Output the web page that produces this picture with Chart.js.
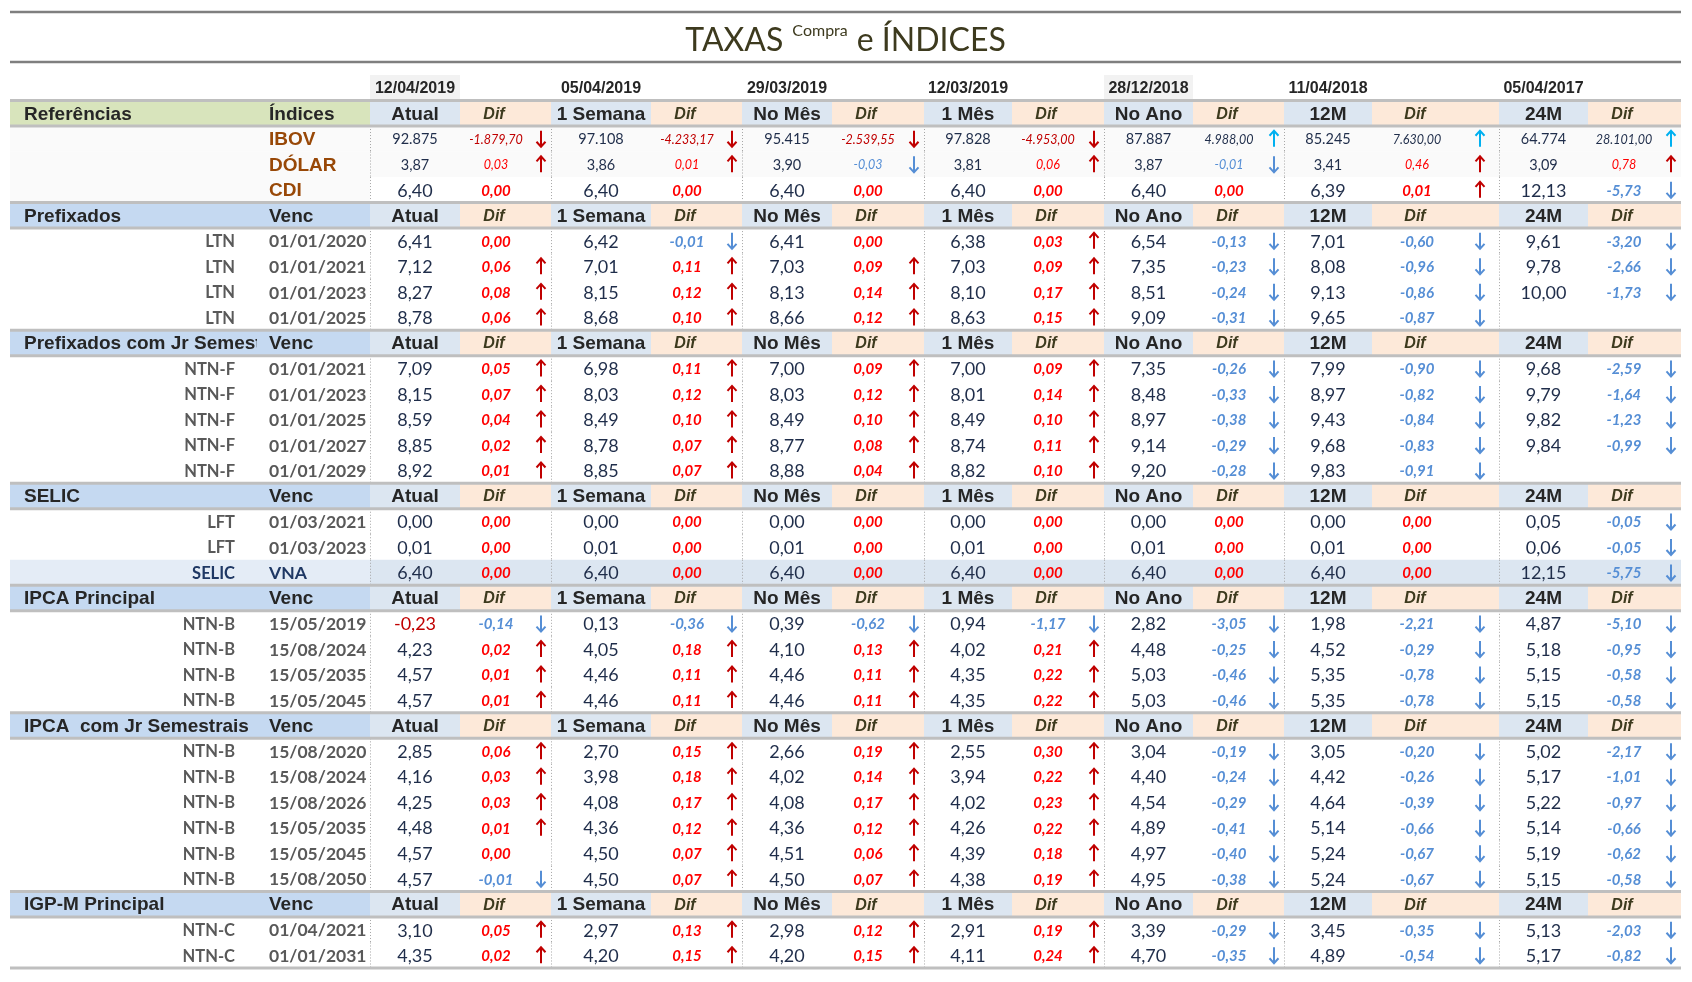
<!DOCTYPE html>
<html>
<head>
<meta charset="utf-8">
<script src="https://cdn.jsdelivr.net/npm/chart.js@4"></script>
<style>
  html, body { margin: 0; background: #fff; }
  canvas { display: block; }
</style>
</head>
<body>
<canvas id="taxas" width="1692" height="982"></canvas>
<script>
// Taxas Compra e Indices - tabela desenhada com Chart.js

const periods = ['Atual', '1 Semana', 'No Mês', '1 Mês', 'No Ano', '12M', '24M'];
const periodDates = ['12/04/2019', '05/04/2019', '29/03/2019', '12/03/2019', '28/12/2018', '11/04/2018', '05/04/2017'];

// Referencias
const ibov = [92875, 97108, 95415, 97828, 87887, 85245, 64774];
const ibovDif = [-1879.70, -4233.17, -2539.55, -4953.00, 4988.00, 7630.00, 28101.00];
const dolar = [3.87, 3.86, 3.90, 3.81, 3.87, 3.41, 3.09];
const dolarDif = [0.03, 0.01, -0.03, 0.06, -0.01, 0.46, 0.78];
const cdi = [6.40, 6.40, 6.40, 6.40, 6.40, 6.39, 12.13];
const cdiDif = [0.00, 0.00, 0.00, 0.00, 0.00, 0.01, -5.73];

// Prefixados (LTN)
const ltnVenc = ['01/01/2020', '01/01/2021', '01/01/2023', '01/01/2025'];
const ltnRates = [
  [6.41, 6.42, 6.41, 6.38, 6.54, 7.01, 9.61],
  [7.12, 7.01, 7.03, 7.03, 7.35, 8.08, 9.78],
  [8.27, 8.15, 8.13, 8.10, 8.51, 9.13, 10.00],
  [8.78, 8.68, 8.66, 8.63, 9.09, 9.65, null]
];
const ltnDif = [
  [0.00, -0.01, 0.00, 0.03, -0.13, -0.60, -3.20],
  [0.06, 0.11, 0.09, 0.09, -0.23, -0.96, -2.66],
  [0.08, 0.12, 0.14, 0.17, -0.24, -0.86, -1.73],
  [0.06, 0.10, 0.12, 0.15, -0.31, -0.87, null]
];

// Prefixados com juros semestrais (NTN-F)
const ntnfVenc = ['01/01/2021', '01/01/2023', '01/01/2025', '01/01/2027', '01/01/2029'];
const ntnfRates = [
  [7.09, 6.98, 7.00, 7.00, 7.35, 7.99, 9.68],
  [8.15, 8.03, 8.03, 8.01, 8.48, 8.97, 9.79],
  [8.59, 8.49, 8.49, 8.49, 8.97, 9.43, 9.82],
  [8.85, 8.78, 8.77, 8.74, 9.14, 9.68, 9.84],
  [8.92, 8.85, 8.88, 8.82, 9.20, 9.83, null]
];
const ntnfDif = [
  [0.05, 0.11, 0.09, 0.09, -0.26, -0.90, -2.59],
  [0.07, 0.12, 0.12, 0.14, -0.33, -0.82, -1.64],
  [0.04, 0.10, 0.10, 0.10, -0.38, -0.84, -1.23],
  [0.02, 0.07, 0.08, 0.11, -0.29, -0.83, -0.99],
  [0.01, 0.07, 0.04, 0.10, -0.28, -0.91, null]
];

// SELIC (LFT)
const lftVenc = ['01/03/2021', '01/03/2023'];
const lftRates = [
  [0.00, 0.00, 0.00, 0.00, 0.00, 0.00, 0.05],
  [0.01, 0.01, 0.01, 0.01, 0.01, 0.01, 0.06]
];
const lftDif = [
  [0.00, 0.00, 0.00, 0.00, 0.00, 0.00, -0.05],
  [0.00, 0.00, 0.00, 0.00, 0.00, 0.00, -0.05]
];
const selicVna = [6.40, 6.40, 6.40, 6.40, 6.40, 6.40, 12.15];
const selicVnaDif = [0.00, 0.00, 0.00, 0.00, 0.00, 0.00, -5.75];

// IPCA principal (NTN-B)
const ipcaVenc = ['15/05/2019', '15/08/2024', '15/05/2035', '15/05/2045'];
const ipcaRates = [
  [-0.23, 0.13, 0.39, 0.94, 2.82, 1.98, 4.87],
  [4.23, 4.05, 4.10, 4.02, 4.48, 4.52, 5.18],
  [4.57, 4.46, 4.46, 4.35, 5.03, 5.35, 5.15],
  [4.57, 4.46, 4.46, 4.35, 5.03, 5.35, 5.15]
];
const ipcaDif = [
  [-0.14, -0.36, -0.62, -1.17, -3.05, -2.21, -5.10],
  [0.02, 0.18, 0.13, 0.21, -0.25, -0.29, -0.95],
  [0.01, 0.11, 0.11, 0.22, -0.46, -0.78, -0.58],
  [0.01, 0.11, 0.11, 0.22, -0.46, -0.78, -0.58]
];

// IPCA com juros semestrais (NTN-B)
const ipcaJrVenc = ['15/08/2020', '15/08/2024', '15/08/2026', '15/05/2035', '15/05/2045', '15/08/2050'];
const ipcaJrRates = [
  [2.85, 2.70, 2.66, 2.55, 3.04, 3.05, 5.02],
  [4.16, 3.98, 4.02, 3.94, 4.40, 4.42, 5.17],
  [4.25, 4.08, 4.08, 4.02, 4.54, 4.64, 5.22],
  [4.48, 4.36, 4.36, 4.26, 4.89, 5.14, 5.14],
  [4.57, 4.50, 4.51, 4.39, 4.97, 5.24, 5.19],
  [4.57, 4.50, 4.50, 4.38, 4.95, 5.24, 5.15]
];
const ipcaJrDif = [
  [0.06, 0.15, 0.19, 0.30, -0.19, -0.20, -2.17],
  [0.03, 0.18, 0.14, 0.22, -0.24, -0.26, -1.01],
  [0.03, 0.17, 0.17, 0.23, -0.29, -0.39, -0.97],
  [0.01, 0.12, 0.12, 0.22, -0.41, -0.66, -0.66],
  [0.00, 0.07, 0.06, 0.18, -0.40, -0.67, -0.62],
  [-0.01, 0.07, 0.07, 0.19, -0.38, -0.67, -0.58]
];

// IGP-M principal (NTN-C)
const igpmVenc = ['01/04/2021', '01/01/2031'];
const igpmRates = [
  [3.10, 2.97, 2.98, 2.91, 3.39, 3.45, 5.13],
  [4.35, 4.20, 4.20, 4.11, 4.70, 4.89, 5.17]
];
const igpmDif = [
  [0.05, 0.13, 0.12, 0.19, -0.29, -0.35, -2.03],
  [0.02, 0.15, 0.15, 0.24, -0.35, -0.54, -0.82]
];

// ---- layout (column widths in px units) ----
const colW = [259, 101, 90, 91, 100, 91, 90, 92, 88, 92, 89, 91, 88, 127, 89, 93];
const colX = [];
let acc = 0;
colW.forEach(w => { colX.push(acc); acc += w; });
const totalW = acc;
const nRows = 35;

const NUM = 'Lato, "Open Sans", sans-serif';
const HEAD = '"Liberation Sans", Arial, sans-serif';
const RED = '#ff0000', DARKRED = '#c00000', BLUE = '#558ed5', CYAN = '#00b0f0';
const INK = '#1f2d4a', GREY = '#595959';

function fmt(v, dec) {
  if (v == null) return '';
  const neg = v < 0 && Math.abs(v) >= Math.pow(10, -dec) / 2;
  const parts = Math.abs(v).toFixed(dec).split('.');
  const ip = parts[0].replace(/\B(?=(\d{3})+(?!\d))/g, '.');
  return (neg ? '-' : '') + ip + (parts[1] ? ',' + parts[1] : '');
}

const cells = [];
const bands = [];
const headerRows = [];

function txt(x, r, text, font, color, align, clip) {
  cells.push({ x: x, y: r + 0.5, text: text, font: font, color: color, align: align || 'center', clip: clip });
}
function arrow(x, r, up, color) {
  cells.push({ x: x, y: r + 0.5, arrow: up ? 'up' : 'down', color: color });
}
function band(c0, c1, r, color) {
  bands.push({ x0: colX[c0], x1: colX[c1] + colW[c1], r: r, color: color });
}
const valX = p => colX[2 + 2 * p] + colW[2 + 2 * p] / 2;
const difX = p => colX[3 + 2 * p] + (p === 5 ? 45 : 36);
const arrX = p => colX[3 + 2 * p] + colW[3 + 2 * p] - (p === 5 ? 19 : 10);

function headerRow(r, title, sub, green) {
  headerRows.push(r);
  band(0, 1, r, green ? '#d8e4bc' : '#c5d9f1');
  periods.forEach((name, p) => {
    band(2 + 2 * p, 2 + 2 * p, r, '#dce6f1');
    band(3 + 2 * p, 3 + 2 * p, r, '#fde9d9');
    txt(valX(p), r, name, 'bold 19px ' + HEAD, '#262626');
    txt(difX(p) - 2, r, 'Dif', 'italic bold 16px ' + HEAD, '#3d3a1e');
  });
  txt(14, r, title, 'bold 19px ' + HEAD, '#262626', 'left', 233);
  txt(colX[1], r, sub, 'bold 19px ' + HEAD, '#262626', 'left');
}

function bondRow(r, name, venc, rates, difs, nameColor) {
  txt(225, r, name, 'bold 16.5px ' + NUM, nameColor || GREY, 'right');
  txt(colX[1], r, venc, 'bold 17.5px ' + NUM, nameColor || GREY, 'left');
  rates.forEach((v, p) => {
    if (v != null) txt(valX(p), r, fmt(v, 2), '18px ' + NUM, v < 0 ? DARKRED : INK);
    const d = difs[p];
    if (d == null) return;
    txt(difX(p), r, fmt(d, 2), 'italic bold 15px ' + NUM, d < 0 ? BLUE : RED);
    if (d > 0) arrow(arrX(p), r, true, DARKRED);
    if (d < 0) arrow(arrX(p), r, false, BLUE);
  });
}

// ---- build rows ----
let row = 0;
periodDates.forEach((d, p) => {
  if (p === 0 || p === 4) band(2 + 2 * p, 2 + 2 * p, row, '#f2f2f2');
  txt(valX(p), row, d, 'bold 16px ' + HEAD, '#262626');
});
row++;
headerRow(row++, 'Referências', 'Índices', true);

// IBOV
band(0, 15, row, '#fafafa');
txt(colX[1], row, 'IBOV', 'bold 19px ' + HEAD, '#984807', 'left');
ibov.forEach((v, p) => {
  txt(valX(p), row, fmt(v, 0), '14.5px ' + NUM, INK);
  const d = ibovDif[p];
  txt(difX(p), row, fmt(d, 2), 'italic 12.5px ' + NUM, d < 0 ? DARKRED : INK);
  arrow(arrX(p), row, d > 0, d > 0 ? CYAN : DARKRED);
});
row++;
// DOLAR
band(0, 15, row, '#fafafa');
txt(colX[1], row, 'DÓLAR', 'bold 19px ' + HEAD, '#984807', 'left');
dolar.forEach((v, p) => {
  txt(valX(p), row, fmt(v, 2), '14.5px ' + NUM, INK);
  const d = dolarDif[p];
  txt(difX(p), row, fmt(d, 2), 'italic 12.5px ' + NUM, d < 0 ? BLUE : RED);
  arrow(arrX(p), row, d > 0, d > 0 ? DARKRED : BLUE);
});
row++;
// CDI
band(0, 1, row, '#fafafa');
txt(colX[1], row, 'CDI', 'bold 19px ' + HEAD, '#984807', 'left');
cdi.forEach((v, p) => {
  txt(valX(p), row, fmt(v, 2), '18px ' + NUM, INK);
  const d = cdiDif[p];
  txt(difX(p), row, fmt(d, 2), 'italic bold 15px ' + NUM, d < 0 ? BLUE : RED);
  if (d > 0) arrow(arrX(p), row, true, DARKRED);
  if (d < 0) arrow(arrX(p), row, false, BLUE);
});
row++;

headerRow(row++, 'Prefixados', 'Venc');
ltnVenc.forEach((v, i) => bondRow(row++, 'LTN', v, ltnRates[i], ltnDif[i]));

headerRow(row++, 'Prefixados com Jr Semestrais', 'Venc');
ntnfVenc.forEach((v, i) => bondRow(row++, 'NTN-F', v, ntnfRates[i], ntnfDif[i]));

headerRow(row++, 'SELIC', 'Venc');
lftVenc.forEach((v, i) => bondRow(row++, 'LFT', v, lftRates[i], lftDif[i]));
band(0, 1, row, '#e4ecf6');
band(2, 15, row, '#dce6f1');
bondRow(row++, 'SELIC', 'VNA', selicVna, selicVnaDif, '#1f3864');

headerRow(row++, 'IPCA Principal', 'Venc');
ipcaVenc.forEach((v, i) => bondRow(row++, 'NTN-B', v, ipcaRates[i], ipcaDif[i]));

headerRow(row++, 'IPCA  com Jr Semestrais', 'Venc');
ipcaJrVenc.forEach((v, i) => bondRow(row++, 'NTN-B', v, ipcaJrRates[i], ipcaJrDif[i]));

headerRow(row++, 'IGP-M Principal', 'Venc');
igpmVenc.forEach((v, i) => bondRow(row++, 'NTN-C', v, igpmRates[i], igpmDif[i]));

// ---- drawing plugin ----
const tablePlugin = {
  id: 'tablePlugin',
  beforeDatasetsDraw(chart) {
    const { ctx, scales: { x, y }, chartArea } = chart;
    const px = v => x.getPixelForValue(v);
    const py = v => y.getPixelForValue(v);
    ctx.save();

    // title and its rules
    ctx.strokeStyle = '#7f7f7f';
    ctx.lineWidth = 2.5;
    [12, 62].forEach(yy => {
      ctx.beginPath(); ctx.moveTo(px(0), yy); ctx.lineTo(px(totalW), yy); ctx.stroke();
    });
    const cx = (chartArea.left + chartArea.right) / 2;
    const big = '32px ' + NUM, small = '16px ' + NUM;
    ctx.font = big;
    const w1 = ctx.measureText('TAXAS').width;
    const w3 = ctx.measureText('e ÍNDICES').width;
    ctx.font = small;
    const w2 = ctx.measureText('Compra').width;
    const gap = 9;
    let tx = cx - (w1 + w2 + w3 + 2 * gap) / 2;
    ctx.fillStyle = '#3d3a1e';
    ctx.textBaseline = 'alphabetic';
    ctx.textAlign = 'left';
    ctx.font = big; ctx.fillText('TAXAS', tx, 51); tx += w1 + gap;
    ctx.font = small; ctx.fillText('Compra', tx, 36); tx += w2 + gap;
    ctx.font = big; ctx.fillText('e ÍNDICES', tx, 51);

    // cell backgrounds
    bands.forEach(b => {
      ctx.fillStyle = b.color;
      ctx.fillRect(px(b.x0), py(b.r), px(b.x1) - px(b.x0), py(b.r + 1) - py(b.r));
    });

    // dotted column separators in data rows
    ctx.strokeStyle = '#a6a6a6';
    ctx.lineWidth = 1;
    ctx.setLineDash([1, 2]);
    for (let r = 2; r < nRows; r++) {
      if (headerRows.includes(r)) continue;
      [2, 4, 6, 8, 10, 12, 14].forEach(c => {
        const xx = Math.round(px(colX[c])) + 0.5;
        ctx.beginPath(); ctx.moveTo(xx, py(r)); ctx.lineTo(xx, py(r + 1)); ctx.stroke();
      });
    }
    ctx.setLineDash([]);

    // header rules
    ctx.strokeStyle = '#bfbfbf';
    ctx.lineWidth = 3;
    const rules = [];
    headerRows.forEach(r => { rules.push(r, r + 1); });
    rules.push(nRows);
    rules.forEach(r => {
      ctx.beginPath(); ctx.moveTo(px(0), py(r)); ctx.lineTo(px(totalW), py(r)); ctx.stroke();
    });
    ctx.restore();
  },
  afterDatasetsDraw(chart) {
    const { ctx } = chart;
    const meta = chart.getDatasetMeta(0);
    ctx.save();
    ctx.textBaseline = 'middle';
    meta.data.forEach((el, i) => {
      const c = cells[i];
      if (c.arrow) {
        const up = c.arrow === 'up';
        const tip = up ? el.y - 8 : el.y + 8;
        const tail = up ? el.y + 8 : el.y - 8;
        const back = up ? 5 : -5;
        ctx.strokeStyle = c.color;
        ctx.lineWidth = 2;
        ctx.beginPath();
        ctx.moveTo(el.x, tail); ctx.lineTo(el.x, tip);
        ctx.moveTo(el.x - 4.5, tip + back); ctx.lineTo(el.x, tip); ctx.lineTo(el.x + 4.5, tip + back);
        ctx.stroke();
        return;
      }
      ctx.save();
      if (c.clip) {
        ctx.beginPath();
        ctx.rect(el.x, el.y - 14, c.clip, 28);
        ctx.clip();
      }
      ctx.font = c.font;
      ctx.fillStyle = c.color;
      ctx.textAlign = c.align;
      ctx.fillText(c.text, el.x, el.y + 1);
      ctx.restore();
    });
    ctx.restore();
  }
};

new Chart(document.getElementById('taxas'), {
  type: 'scatter',
  data: {
    datasets: [{
      data: cells.map(c => ({ x: c.x, y: c.y })),
      pointRadius: 0,
      pointHoverRadius: 0
    }]
  },
  options: {
    responsive: false,
    animation: false,
    events: [],
    layout: { padding: { left: 10, right: 1692 - 10 - totalW, top: 75, bottom: 14 } },
    plugins: { legend: { display: false }, tooltip: { enabled: false }, title: { display: false } },
    scales: {
      x: { type: 'linear', display: false, min: 0, max: totalW },
      y: { type: 'linear', display: false, min: 0, max: nRows, reverse: true }
    }
  },
  plugins: [tablePlugin]
});
</script>
</body>
</html>
